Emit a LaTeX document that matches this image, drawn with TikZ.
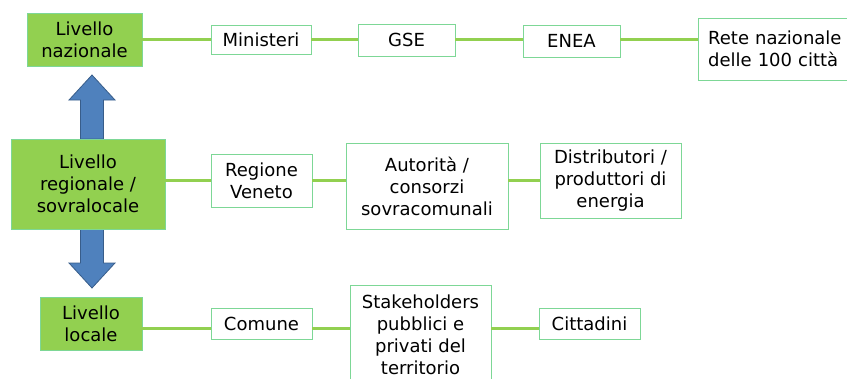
\documentclass[tikz,border=0pt]{standalone}
\usepackage{fontspec}
\setmainfont{DejaVu Sans}
\usetikzlibrary{positioning}
\definecolor{livgreen}{RGB}{146,208,80}
\definecolor{boxline}{RGB}{125,215,150}
\definecolor{arrowblue}{RGB}{79,129,189}
\definecolor{arrowline}{RGB}{56,93,138}
\tikzset{
 livello/.style={draw=boxline,fill=livgreen,align=center,inner sep=2pt,font=\fontsize{18}{22}\selectfont},
 attore/.style={draw=boxline,fill=white,align=center,inner sep=2pt,font=\fontsize{18}{22}\selectfont},
 legame/.style={livgreen,line width=3pt},
 freccia/.style={draw=arrowline,fill=arrowblue,line width=0.8pt}
}
\begin{document}
\begin{tikzpicture}[x=1pt,y=-1pt]
 \useasboundingbox (0,0) rectangle (847,378);
 \clip (0,0) rectangle (847,378);
 % blue arrows between levels
 \draw[freccia] (80.5,139)--(80.5,100)--(69,100)--(92,75)--(115,100)--(103.5,100)--(103.5,139)--cycle;
 \draw[freccia] (80.5,229)--(80.5,263)--(69,263)--(92,288)--(115,263)--(103.5,263)--(103.5,229)--cycle;
 % national level
 \node[livello,minimum width=115,minimum height=53] (naz) at (84.5,39.5) {Livello\\nazionale};
 \node[attore,minimum width=100,minimum height=29] (min) at (261,39.5) {Ministeri};
 \node[attore,minimum width=97,minimum height=32] (gse) at (406.5,40) {GSE};
 \node[attore,minimum width=97,minimum height=32] (enea) at (571.5,41) {ENEA};
 \node[attore,anchor=west,align=left,text width=150,inner xsep=10pt,minimum height=62] (rete) at (698,49) {Rete nazionale\\delle 100 città};
 % regional level
 \node[livello,minimum width=154,minimum height=90] (reg) at (88,184) {Livello\\regionale /\\sovralocale};
 \node[attore,minimum width=101,minimum height=53] (ven) at (261.5,180.5) {Regione\\Veneto};
 \node[attore,minimum width=162,minimum height=86] (aut) at (427,186) {Autorità /\\consorzi\\sovracomunali};
 \node[attore,minimum width=141,minimum height=75] (dist) at (610.5,180.5) {Distributori /\\produttori di\\energia};
 % local level
 \node[livello,minimum width=102,minimum height=53] (loc) at (91,323.5) {Livello\\locale};
 \node[attore,minimum width=101,minimum height=31] (com) at (261.5,323.5) {Comune};
 \node[attore,minimum width=141,minimum height=100] (stk) at (420.5,335) {Stakeholders\\pubblici e\\privati del\\territorio};
 \node[attore,minimum width=101,minimum height=31] (cit) at (589.5,323.5) {Cittadini};
 % links
 \draw[legame] (naz.east |- min.east) -- (min.west);
 \draw[legame] (min.east) -- (gse.west |- min.east);
 \draw[legame] (gse.east |- min.east) -- (enea.west |- min.east);
 \draw[legame] (enea.east |- min.east) -- (rete.west |- min.east);
 \draw[legame] (reg.east |- ven.west) -- (ven.west);
 \draw[legame] (ven.east) -- (ven.east -| aut.west);
 \draw[legame] (aut.east |- ven.east) -- (ven.east -| dist.west);
 \draw[legame] ([yshift=-4.5pt]loc.east) -- ([yshift=-4.5pt]com.west);
 \draw[legame] ([yshift=-4.5pt]com.east) -- ([yshift=-4.5pt]com.east -| stk.west);
 \draw[legame] ([yshift=-4.5pt]stk.east |- cit.west) -- ([yshift=-4.5pt]cit.west);
\end{tikzpicture}
\end{document}
